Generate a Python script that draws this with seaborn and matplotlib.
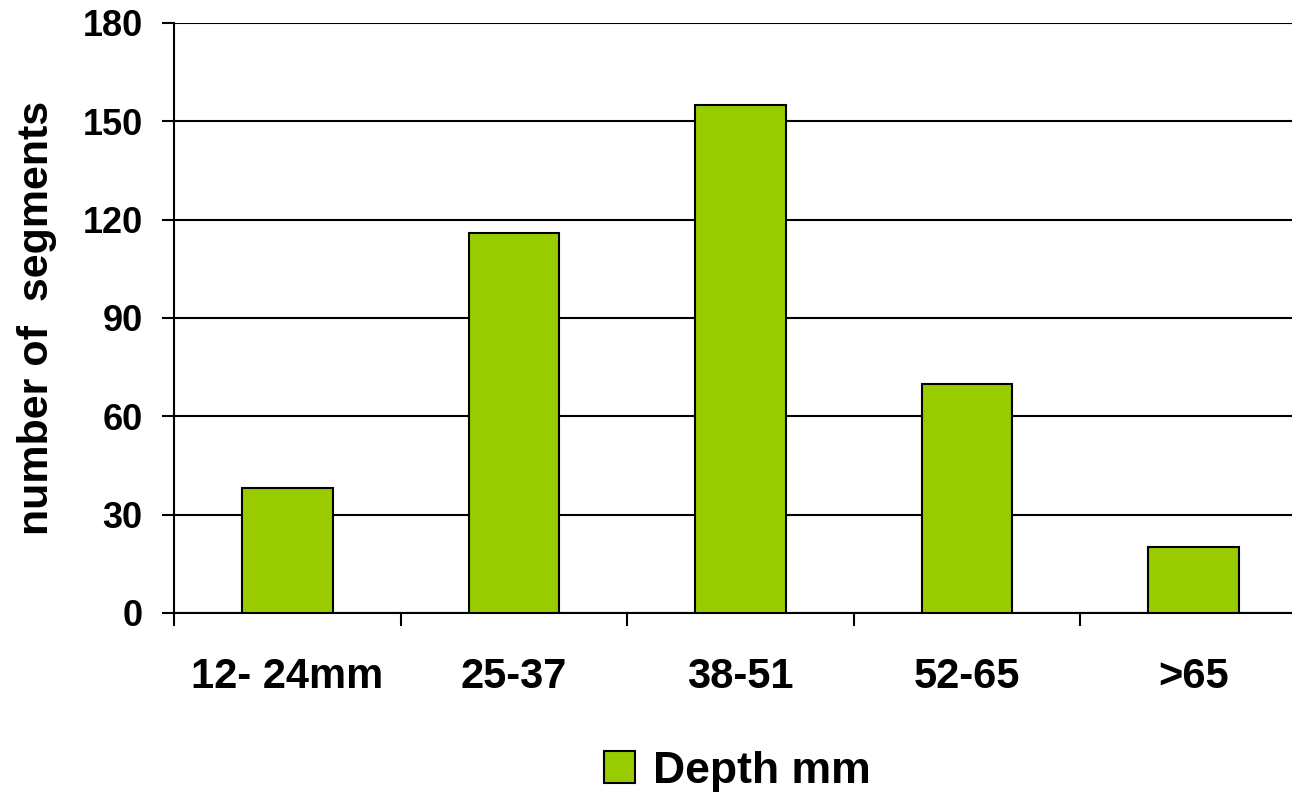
import matplotlib
matplotlib.use("Agg")
import matplotlib.pyplot as plt
import seaborn as sns
import pandas as pd
from matplotlib.ticker import FixedLocator

# Segment counts per depth class
categories = ["12- 24mm", "25-37", "38-51", "52-65", ">65"]
counts = [38, 116, 155, 70, 20]
series_name = "Depth mm"
y_ticks = [0, 30, 60, 90, 120, 150, 180]

df = pd.DataFrame({"depth": categories, "count": counts, "series": series_name})

sns.set_theme(style="white")
plt.rcParams["font.family"] = ["Liberation Sans", "DejaVu Sans"]
plt.rcParams["font.weight"] = "bold"
plt.rcParams["text.color"] = "black"

fig = plt.figure(figsize=(12.92, 7.96), dpi=100)
ax = fig.add_axes([174 / 1292, 183 / 796, 1133 / 1292, 590 / 796])

sns.barplot(data=df, x="depth", y="count", hue="series", palette=["#99CC00"],
            saturation=1, width=0.4, edgecolor="black", linewidth=1.5, ax=ax,
            zorder=3, legend=True)

ax.set_xlim(-0.5, len(categories) - 0.5)
ax.set_ylim(0, 180)
ax.set_yticks(y_ticks)
ax.yaxis.grid(True, color="black", linewidth=1.5, zorder=0)
ax.set_axisbelow(True)

for side in ["top", "right"]:
    ax.spines[side].set_visible(False)
for side in ["left", "bottom"]:
    ax.spines[side].set_color("black")
    ax.spines[side].set_linewidth(1.5)

# category boundaries carry the tick marks
ax.xaxis.set_minor_locator(FixedLocator([i - 0.5 for i in range(len(categories) + 1)]))
ax.tick_params(axis="x", which="major", length=0, pad=32, labelsize=30)
ax.tick_params(axis="x", which="minor", length=9, width=1.5, color="black",
               direction="out", bottom=True)
ax.tick_params(axis="y", which="major", length=8.6, width=1.5, color="black",
               direction="out", left=True, labelsize=26, pad=14)
for lab in ax.get_xticklabels() + ax.get_yticklabels():
    lab.set_fontweight("bold")
    lab.set_color("black")

ax.set_xlabel("")
ax.set_ylabel("number of  segments", fontsize=31, fontweight="bold", color="black")
ax.yaxis.set_label_coords(-0.103, 0.5)

leg = ax.legend(loc="center", bbox_to_anchor=(737 / 1292, 25 / 796),
                bbox_transform=fig.transFigure, frameon=False,
                prop={"size": 32, "weight": "bold"}, handlelength=0.7,
                handleheight=0.7, handletextpad=0.4)
for t in leg.get_texts():
    t.set_color("black")

fig.savefig("out.png", dpi=100)
